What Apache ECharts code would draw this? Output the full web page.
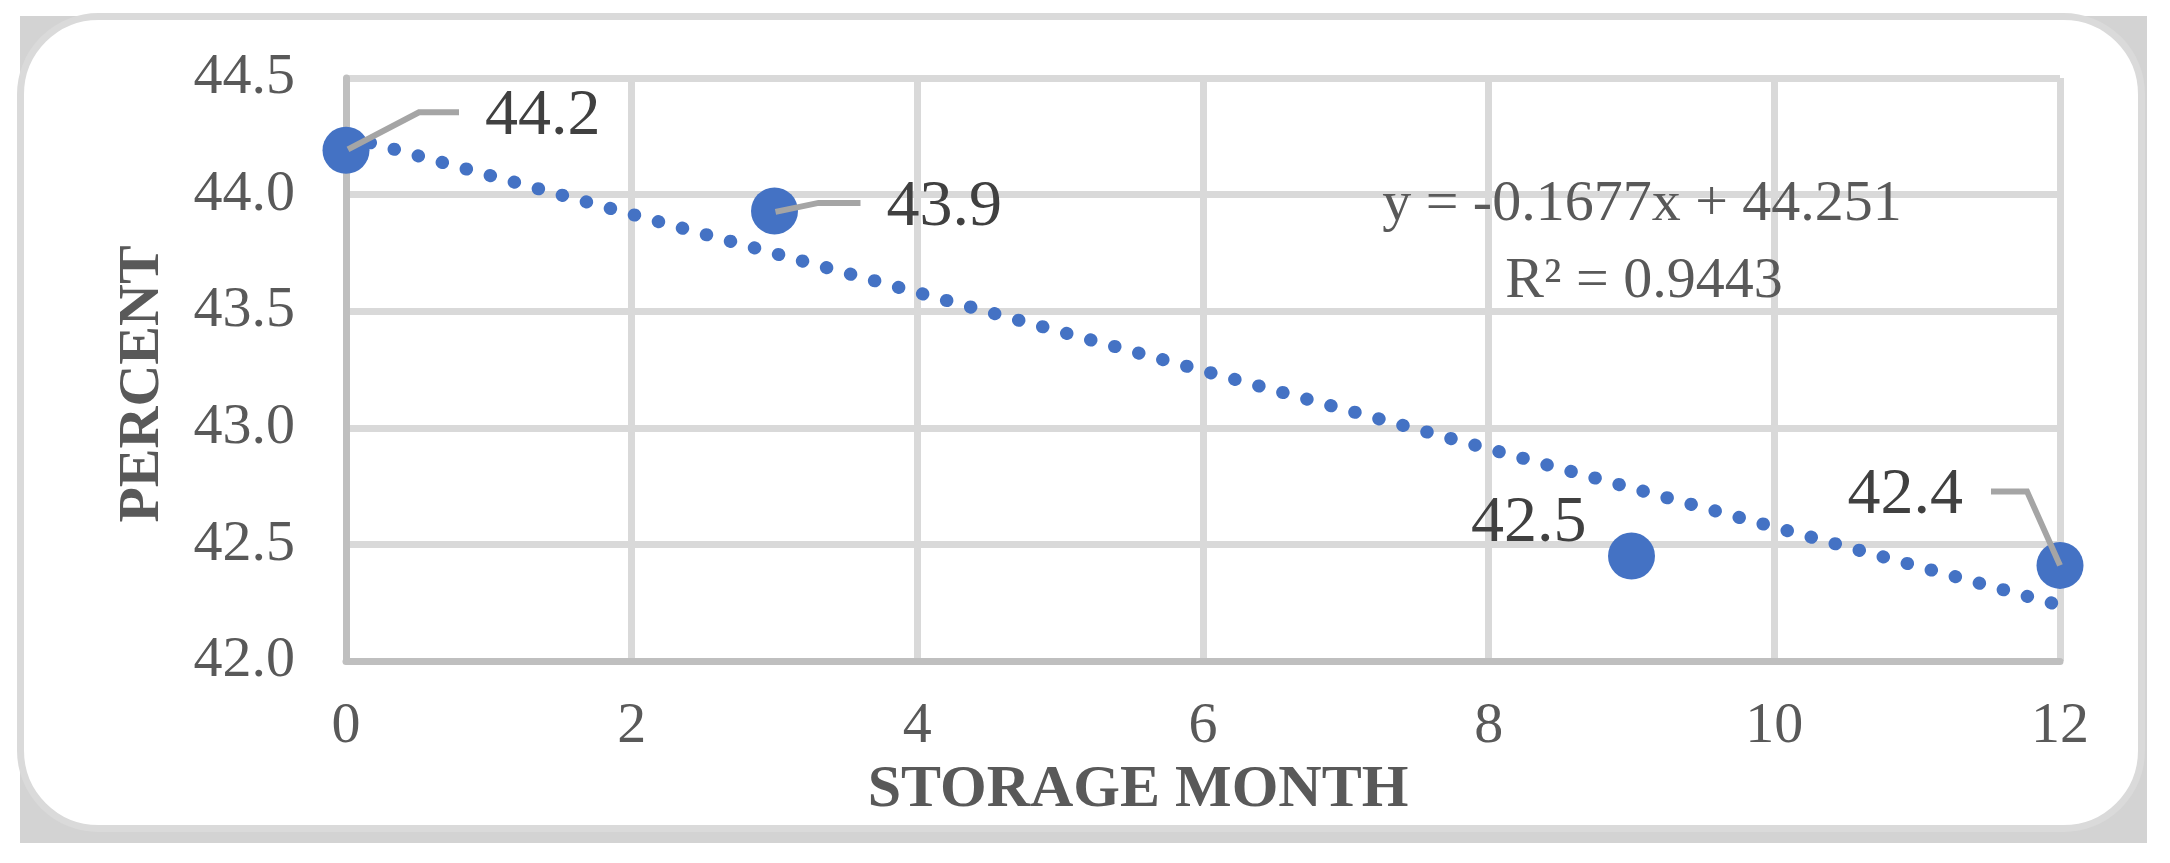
<!DOCTYPE html>
<html>
<head>
<meta charset="utf-8">
<script src="https://cdn.jsdelivr.net/npm/echarts@6/dist/echarts.min.js"></script>
<style>
  html, body { margin: 0; padding: 0; background: #fff; }
  #chart { width: 2170px; height: 863px; }
</style>
</head>
<body>
<div id="chart"></div>
<script>
var months = [0, 3, 9, 12];
var percent = [44.19, 43.93, 42.45, 42.41];
var pointLabels = ['44.2', '43.9', '42.5', '42.4'];
var trendX = [0, 12];
var trendY = [44.251, 42.239];
var equation = 'y = -0.1677x + 44.251';
var rSquared = 'R² = 0.9443';

var FONT = '"Liberation Serif", "DejaVu Serif", serif';

// where each value label sits, in px from the marker centre (plus its leader line)
var labelPos = [
  { dx: 139, dy: -34, align: 'left', leader: [[2, -1], [73, -38], [113, -38]] },
  { dx: 112, dy: -3, align: 'left', leader: [[1, 1], [44, -8], [86, -8]] },
  { dx: -45, dy: -32, align: 'right', leader: null },
  { dx: -97, dy: -70, align: 'right', leader: [[0, 0], [-33, -74], [-69, -74]] }
];

var pts = months.map(function (m, i) { return [m, percent[i]]; });
var trend = trendX.map(function (x, i) { return [x, trendY[i]]; });

var chart = echarts.init(document.getElementById('chart'));

chart.setOption({
  animation: false,
  backgroundColor: '#fff',
  graphic: [
    { type: 'rect', z: -10, shape: { x: 20, y: 16, width: 2127, height: 827 }, style: { fill: '#D3D3D3' } },
    { type: 'rect', z: -9, shape: { x: 20.5, y: 16.5, width: 2121, height: 812, r: 78 },
      style: { fill: '#fff', stroke: '#DADADA', lineWidth: 7 } },
    { type: 'text', z: 10, x: 1642, y: 205,
      style: { text: equation, fontFamily: FONT, fontSize: 58, fill: '#595959', align: 'center', verticalAlign: 'middle' } },
    { type: 'text', z: 10, x: 1644, y: 282,
      style: { text: rSquared, fontFamily: FONT, fontSize: 58, fill: '#595959', align: 'center', verticalAlign: 'middle' } }
  ],
  grid: { left: 346, right: 110, top: 78, bottom: 202 },
  xAxis: {
    type: 'value',
    min: 0, max: 12, interval: 2,
    name: 'STORAGE MONTH',
    nameLocation: 'middle',
    nameGap: 91,
    nameTextStyle: { fontFamily: FONT, fontSize: 60, fontWeight: 'bold', color: '#595959', padding: [0, 130, 0, 0] },
    axisLine: { show: true, lineStyle: { color: '#BFBFBF', width: 7 } },
    axisTick: { show: false },
    axisLabel: { fontFamily: FONT, fontSize: 58, color: '#595959', margin: 37 },
    splitLine: { show: true, lineStyle: { color: '#D9D9D9', width: 7 } }
  },
  yAxis: {
    type: 'value',
    min: 42, max: 44.5, interval: 0.5,
    name: 'PERCENT',
    nameLocation: 'middle',
    nameGap: 174,
    nameTextStyle: { fontFamily: FONT, fontSize: 58, fontWeight: 'bold', color: '#595959', padding: [0, 29, 0, 0] },
    axisLine: { show: true, lineStyle: { color: '#BFBFBF', width: 7 } },
    axisTick: { show: false },
    axisLabel: { fontFamily: FONT, fontSize: 58, color: '#595959', margin: 51,
      formatter: function (v) { return v.toFixed(1); } },
    splitLine: { show: true, lineStyle: { color: '#D9D9D9', width: 7 } }
  },
  series: [
    {
      type: 'line',
      data: trend,
      symbol: 'none',
      z: 3,
      lineStyle: { color: '#4472C4', width: 13, type: [0.5, 24.4], cap: 'round' }
    },
    {
      type: 'scatter',
      data: pts,
      symbolSize: 47,
      z: 4,
      itemStyle: { color: '#4472C4', opacity: 1 }
    },
    {
      type: 'custom',
      data: pts,
      z: 5,
      clip: false,
      renderItem: function (params, api) {
        var p = api.coord([api.value(0), api.value(1)]);
        var s = labelPos[params.dataIndex];
        var kids = [];
        if (s.leader) {
          kids.push({
            type: 'polyline',
            shape: { points: s.leader.map(function (q) { return [p[0] + q[0], p[1] + q[1]]; }) },
            style: { stroke: '#A5A5A5', lineWidth: 6, fill: null }
          });
        }
        kids.push({
          type: 'text',
          style: {
            text: pointLabels[params.dataIndex],
            x: p[0] + s.dx, y: p[1] + s.dy,
            align: s.align, verticalAlign: 'middle',
            fontFamily: FONT, fontSize: 66, fill: '#404040'
          }
        });
        return { type: 'group', children: kids };
      }
    }
  ]
});
</script>
</body>
</html>
